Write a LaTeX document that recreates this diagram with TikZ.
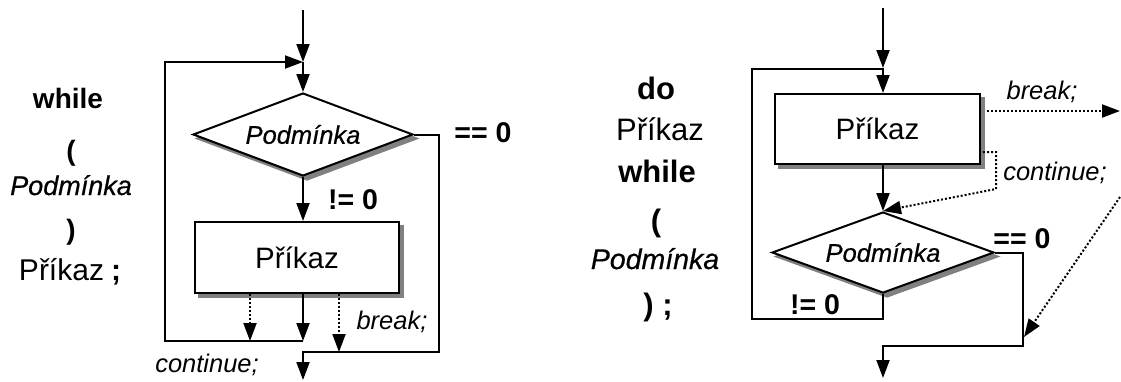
\documentclass[tikz,border=0pt]{standalone}
\usepackage{fontspec}
\setmainfont{Liberation Sans}
\newfontfamily\pmkfam{Liberation Sans}[ItalicFeatures={FakeBold=0.6}]
\usetikzlibrary{arrows.meta,shapes.geometric,shadows}
\begin{document}
\begin{tikzpicture}[x=1pt,y=-1pt,
  line/.style={line width=2pt},
  arr/.style={line width=2pt,-{Triangle[length=18pt,width=13pt]}},
  dotarr/.style={line width=2pt,dash pattern=on 2pt off 2pt,-{Triangle[length=18pt,width=13pt]}},
  shade/.style={copy shadow={shadow xshift=4pt,shadow yshift=-4pt,fill=black!50,draw=black!50}},
  stmt/.style={draw,line width=2pt,fill=white,rectangle,inner sep=0pt,shade,font=\fontsize{29.5}{32}\selectfont},
  cond/.style={draw,line width=2pt,fill=white,diamond,aspect=2.65,inner sep=0pt,shade,font=\fontsize{25.5}{28}\pmkfam\itshape},
  txt/.style={inner sep=0pt,anchor=base},
  btxt/.style={inner sep=0pt,font=\fontsize{28.5}{32}\selectfont\bfseries},
  ltxt/.style={inner sep=0pt,font=\fontsize{25.5}{28}\selectfont\itshape}
]
\useasboundingbox (0,0) rectangle (1121,381);

% ---------- left: while ----------
\node[txt,font=\fontsize{28}{32}\selectfont\bfseries] (w1) at (68,108) {while};
\node[txt,font=\fontsize{28}{32}\selectfont\bfseries] (w2) at (71,160) {(};
\node[txt,font=\fontsize{27}{32}\pmkfam\itshape] (w3) at (71,195) {Podmínka};
\node[txt,font=\fontsize{28}{32}\selectfont\bfseries] (w4) at (71,239) {)};
\node[txt,font=\fontsize{30}{32}\selectfont] (w5) at (70,280) {Příkaz\hspace{7pt}\textbf{;}};

\coordinate (t1) at (303,10);
\coordinate (j1) at (303,62);
\node[cond,minimum width=220pt,minimum height=83pt] (d1) at (303,134.5) {Podmínka};
\node[stmt,minimum width=204pt,minimum height=71pt] (b1) at (297,257.5) {Příkaz};
\coordinate (c1) at (250,341);
\coordinate (l1) at (303,341);
\coordinate (k1) at (339,352);
\coordinate (lc) at (165,341);
\coordinate (lt) at (165,62);
\coordinate (r1) at (439,134.5);
\coordinate (r2) at (439,352);
\coordinate (e1) at (303,352);
\coordinate (o1) at (303,380);

\draw[arr] (t1) -- (j1);
\draw[arr] (j1) -- (d1.north);
\draw[arr] (d1.south) -- (d1.south |- b1.north);
\draw[dotarr] (c1 |- b1.south) -- (c1);
\draw[arr] (l1 |- b1.south) -- (l1);
\draw[dotarr] (k1 |- b1.south) -- (k1);
\draw[arr] (l1) -- (lc) -- (lt) -- (j1);
\draw[arr] (d1.east) -- (r1) -- (r2) -- (e1) -- (o1);

\node[btxt] (eq1) at (483,133) {== 0};
\node[btxt] (ne1) at (353,200) {!= 0};
\node[ltxt] (br1) at (392,322) {break;};
\node[ltxt] (co1) at (207,365) {continue;};

% ---------- right: do-while ----------
\node[txt,font=\fontsize{31}{34}\selectfont\bfseries] (v1) at (656,99) {do};
\node[txt,font=\fontsize{31}{34}\selectfont] (v2) at (660,140) {Příkaz};
\node[txt,font=\fontsize{31}{34}\selectfont\bfseries] (v3) at (657,182) {while};
\node[txt,font=\fontsize{31}{34}\selectfont\bfseries] (v4) at (656,231) {(};
\node[txt,font=\fontsize{28.5}{34}\pmkfam\itshape] (v5) at (655,269) {Podmínka};
\node[txt,font=\fontsize{31}{34}\selectfont\bfseries] (v6) at (658,315) {) ;};

\coordinate (t2) at (883,8);
\coordinate (j2) at (883,68);
\node[stmt,minimum width=205pt,minimum height=70pt] (b2) at (877.5,129) {Příkaz};
\node[cond,minimum width=222pt,minimum height=81pt] (d2) at (883,252.5) {Podmínka};
\coordinate (p1) at (883,319);
\coordinate (p2) at (752,319);
\coordinate (p3) at (752,69);
\coordinate (p4) at (883,69);
\coordinate (q1) at (1023,252.5);
\coordinate (q2) at (1023,346);
\coordinate (q3) at (883,346);
\coordinate (q4) at (883,378);
\coordinate (bs) at (987,111);
\coordinate (be) at (1120,111);
\coordinate (cs) at (979,152);
\coordinate (cm1) at (996,152);
\coordinate (cm2) at (996,189);
\coordinate (ls) at (1120,197);
\coordinate (le) at (1024,337);

\draw[arr] (t2) -- (j2);
\draw[arr] (j2) -- (j2 |- b2.north);
\draw[arr] (j2 |- b2.south) -- (d2.north);
\draw[line] (d2.south) -- (p1) -- (p2) -- (p3) -- (p4);
\draw[arr] (d2.east) -- (q1) -- (q2) -- (q3) -- (q4);
\draw[dotarr] (bs) -- (be);
\draw[dotarr] (cs) -- (cm1) -- (cm2) -- (d2.north);
\draw[dotarr] (ls) -- (le);

\node[ltxt] (br2) at (1042,92) {break;};
\node[ltxt] (co2) at (1055,173) {continue;};
\node[btxt] (eq2) at (1022,239) {== 0};
\node[btxt] (ne2) at (815,305) {!= 0};
\end{tikzpicture}
\end{document}
